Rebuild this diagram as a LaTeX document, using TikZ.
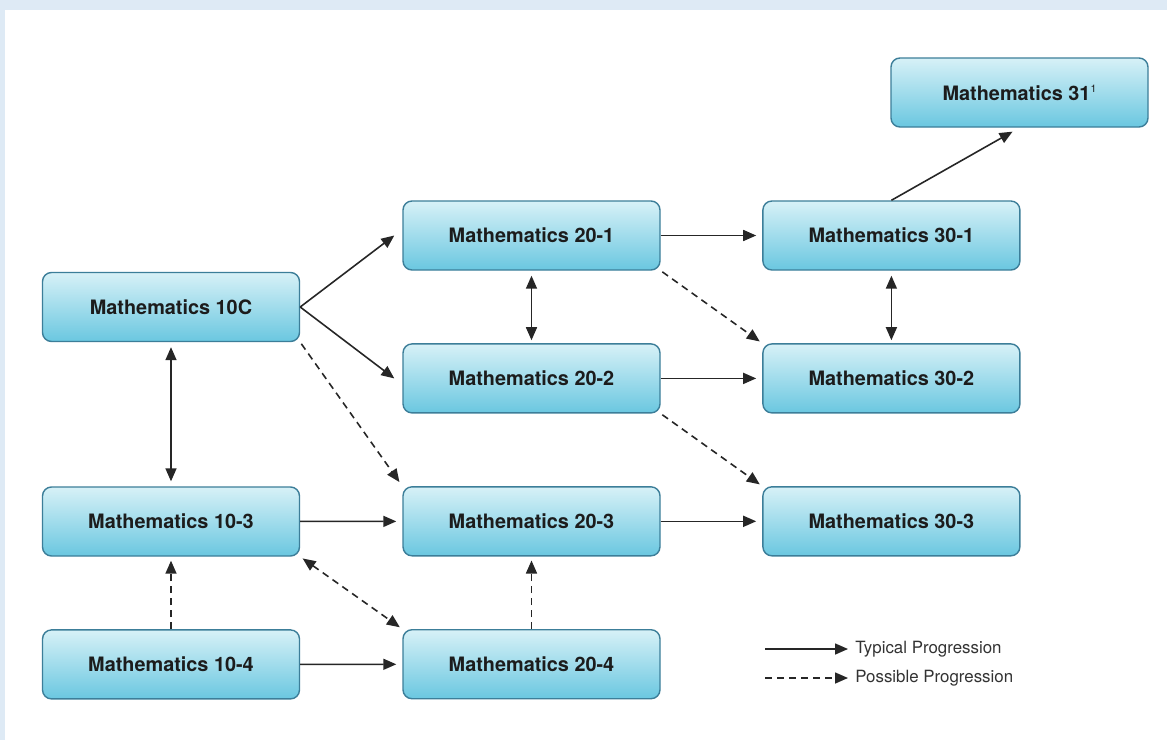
\documentclass[tikz,border=0pt]{standalone}
\usepackage{fontspec}
\setmainfont{TeX Gyre Heros}
\usepackage{tikz}
\usetikzlibrary{arrows.meta, positioning, shadings}
\definecolor{framebg}{HTML}{DEEAF5}
\definecolor{boxtop}{HTML}{D7F1F7}
\definecolor{boxbot}{HTML}{6AC7E0}
\definecolor{boxline}{HTML}{3C7E99}
\definecolor{inktext}{HTML}{1C1C1C}
\definecolor{legtext}{HTML}{333333}
\tikzset{
    course/.style={
        rectangle,
        rounded corners=0.18cm,
        draw=boxline,
        line width=0.8pt,
        top color=boxtop,
        bottom color=boxbot,
        minimum width=5.14cm,
        minimum height=1.38cm,
        text=inktext,
        font=\fontsize{11.3}{13}\selectfont\bfseries
    },
    typical/.style={
        draw=black!85,
        line width=0.9pt,
        -{Triangle[length=0.26cm,width=0.22cm]}
    },
    possible/.style={
        typical,
        dash pattern=on 0.14cm off 0.1cm
    },
    twoway/.style={
        {Triangle[length=0.26cm,width=0.22cm]}-{Triangle[length=0.26cm,width=0.22cm]}
    },
    legendtext/.style={
        anchor=west,
        inner xsep=0.14cm,
        text=legtext,
        font=\fontsize{9.6}{11}\selectfont
    }
}

\begin{document}
\begin{tikzpicture}

% Frame and bounds
\fill[white] (0,0) rectangle (23.34,-14.8);
\fill[framebg] (0,0) rectangle (23.34,-0.2);
\fill[framebg] (0,0) rectangle (0.1,-14.8);
\useasboundingbox (0,0) rectangle (23.34,-14.8);

% Grade 10 courses
\node[course] (m10c) at (3.42,-6.14) {Mathematics 10C};
\node[course] (m103) at (3.42,-10.43) {Mathematics 10-3};
\node[course, below=1.45cm of m103] (m104) {Mathematics 10-4};

% Grade 11 courses
\node[course] (m201) at (10.63,-4.71) {Mathematics 20-1};
\node[course, below=1.45cm of m201] (m202) {Mathematics 20-2};
\node[course, below=1.45cm of m202] (m203) {Mathematics 20-3};
\node[course, below=1.45cm of m203] (m204) {Mathematics 20-4};

% Grade 12 courses
\node[course, right=2.03cm of m201] (m301) {Mathematics 30-1};
\node[course, right=2.03cm of m202] (m302) {Mathematics 30-2};
\node[course, right=2.03cm of m203] (m303) {Mathematics 30-3};
\node[course] (m31) at (20.39,-1.85) {Mathematics 31\raisebox{0.75ex}{\fontsize{6}{6}\selectfont\mdseries 1}};

% Typical progression
\draw[typical] (m10c.east) -- ([xshift=-0.16cm]m201.west);
\draw[typical] (m10c.east) -- ([xshift=-0.16cm]m202.west);
\draw[typical, shorten >=0.12cm] (m103) -- (m203);
\draw[typical, shorten >=0.12cm] (m104) -- (m204);
\draw[typical, shorten >=0.12cm] (m201) -- (m301);
\draw[typical, shorten >=0.12cm] (m202) -- (m302);
\draw[typical, shorten >=0.12cm] (m203) -- (m303);
\draw[typical, shorten >=0.16cm] (m301.north) -- (m31.south);

% Transfers between streams
\draw[typical, twoway, shorten <=0.1cm, shorten >=0.1cm] (m10c) -- (m103);
\draw[typical, twoway, shorten <=0.1cm, shorten >=0.06cm] (m201) -- (m202);
\draw[typical, twoway, shorten <=0.1cm, shorten >=0.06cm] (m301) -- (m302);

% Possible progression
\draw[possible, shorten <=0.04cm, shorten >=0.1cm] (m10c.south east) -- (m203.north west);
\draw[possible, shorten <=0.04cm, shorten >=0.06cm] (m201.south east) -- (m302.north west);
\draw[possible, shorten <=0.04cm, shorten >=0.06cm] (m202.south east) -- (m303.north west);
\draw[possible, shorten >=0.08cm] (m104) -- (m103);
\draw[possible, shorten >=0.08cm] (m204) -- (m203);
\draw[possible, twoway, shorten <=0.06cm, shorten >=0.06cm] (m103.south east) -- (m204.north west);

% Legend
\coordinate (lega) at (15.3,-12.98);
\coordinate (legb) at (15.3,-13.56);
\node[legendtext] (legtyp) at (16.96,-12.98) {Typical Progression};
\node[legendtext] (legpos) at (16.96,-13.56) {Possible Progression};
\draw[typical] (lega) -- (legtyp.west);
\draw[possible] (legb) -- (legpos.west);

\end{tikzpicture}
\end{document}
